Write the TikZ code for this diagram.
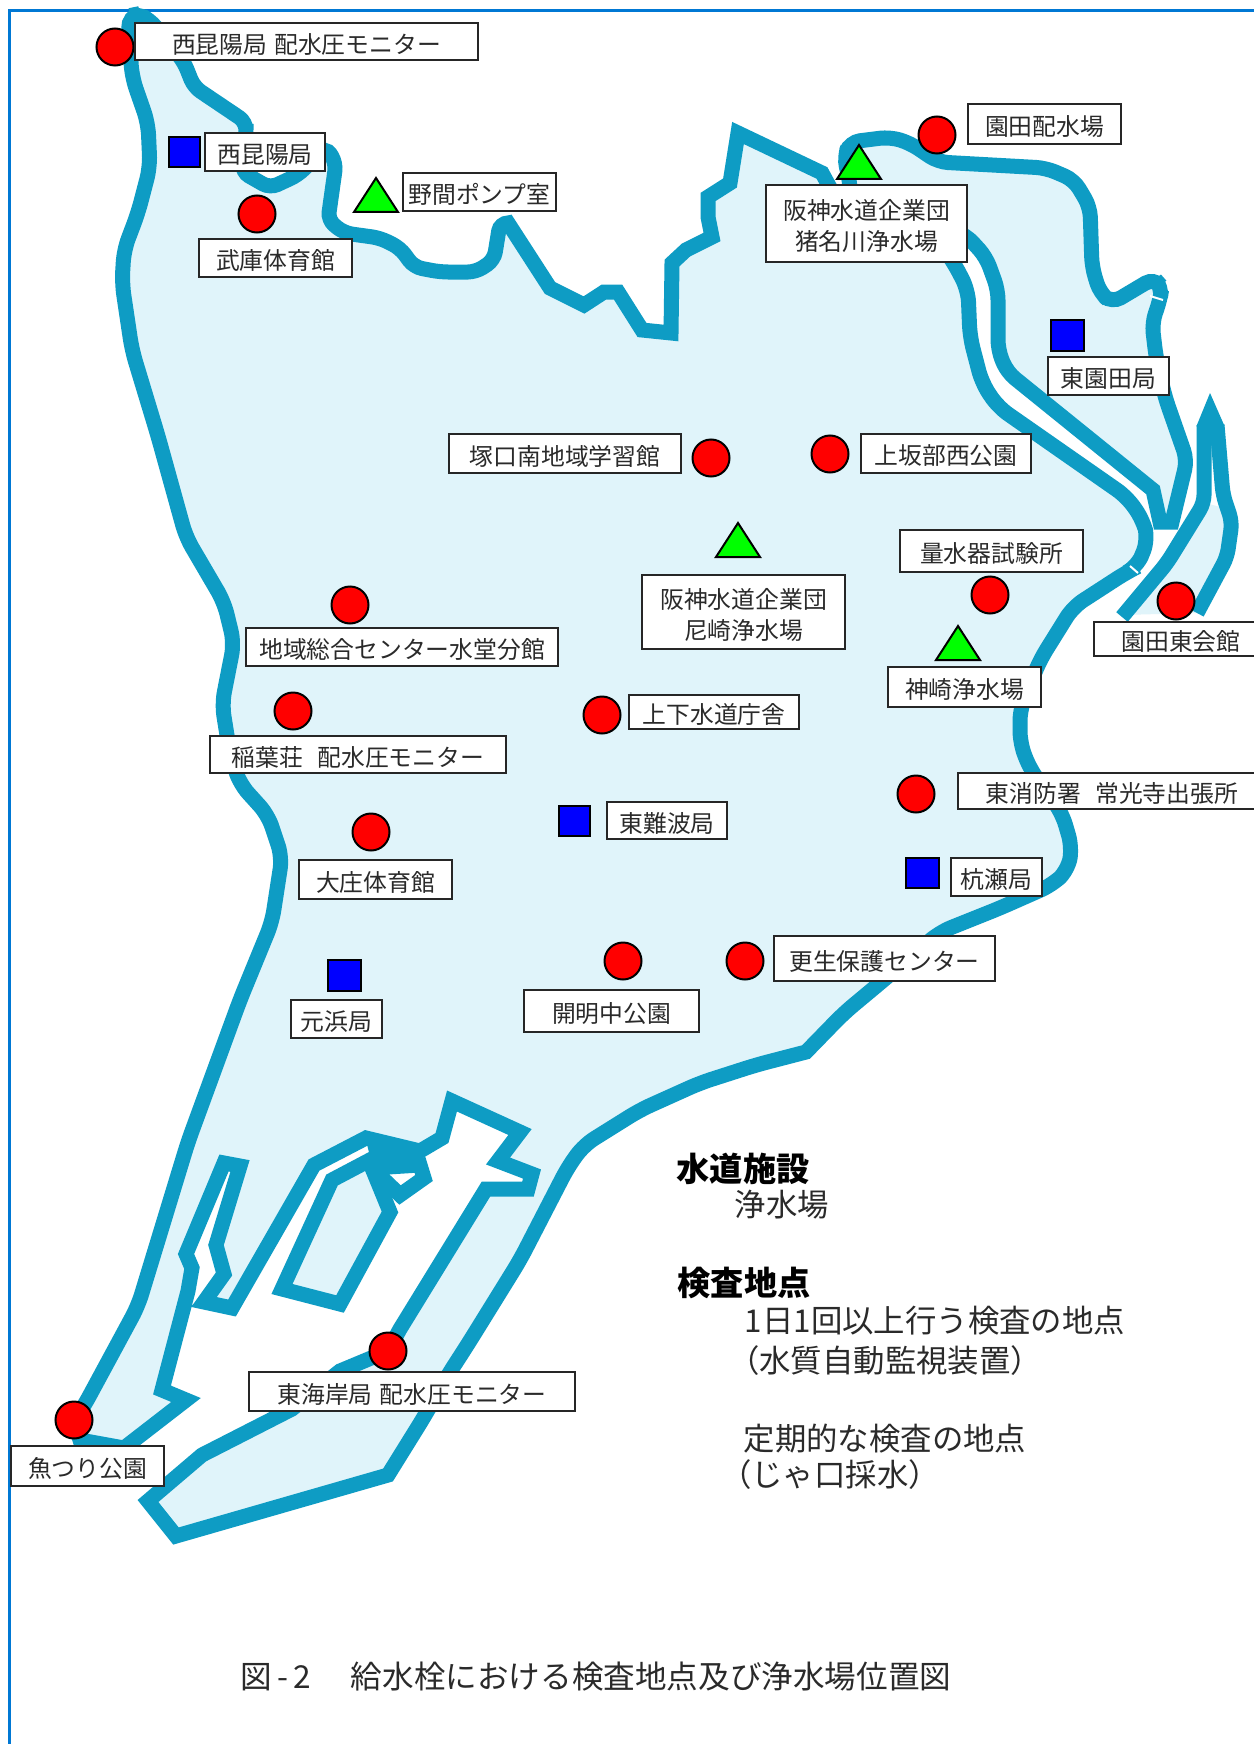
\documentclass[tikz,border=0pt]{standalone}
\usepackage{fontspec}
\setmainfont{Noto Sans CJK JP}
\usetikzlibrary{calc}
\definecolor{band}{HTML}{0E9CC4}
\definecolor{land}{HTML}{E0F4FA}
\definecolor{framec}{HTML}{0078D4}
\definecolor{ink}{HTML}{2A2A2A}
\tikzset{
  bandline/.style={draw=band,line width=7.5pt,line join=miter,miter limit=4},
  landarea/.style={bandline,fill=land},
  lblbox/.style={draw=black!85,line width=1.3pt,fill=white},
  lbltext/.style={text=ink,font=\fontsize{11.9}{15.5}\selectfont,align=center,inner sep=0pt},
  redpt/.style={draw=black,line width=1pt,fill=red,circle,minimum size=18.5pt,inner sep=0pt},
  bluept/.style={draw=black,line width=.8pt,fill=blue},
  greenpt/.style={draw=black,line width=1pt,fill=green,line join=miter},
  legendhead/.style={text=black,font=\fontsize{16.6}{18}\selectfont\bfseries,inner sep=0pt},
  legendtext/.style={text=ink,font=\fontsize{15.7}{18}\selectfont,inner sep=0pt},
  captiontext/.style={text=ink,font=\fontsize{15.8}{18}\selectfont,inner sep=0pt},
}
\newcommand{\lblnode}[6]{%
  \draw[lblbox] (#2,#3) rectangle (#4,#5);
  \node[lbltext] (#1) at ({(#2+#4)/2},{(#3+#5)/2+2.5}) {#6};}
\newcommand{\redat}[3]{\node[redpt] (#1) at (#2,#3) {};}
\newcommand{\blueat}[5]{\draw[bluept] (#2,#3) rectangle (#4,#5);}
\newcommand{\greenat}[4]{\draw[greenpt] (#1,#2) -- (#3,#4) -- ({2*#1-#3},#4) -- cycle;}
\begin{document}
\begin{tikzpicture}[x=0.5pt,y=-0.5pt]
\useasboundingbox (0,0) rectangle (1253,1744);
\fill[white] (0,0) rectangle (1253,1744);
% frame
\draw[framec,line width=1.5pt] (9.5,1760) -- (9.5,11) -- (1270,11);
% north-east land
\draw[landarea,rounded corners=5pt] (850,195) -- (850,182) -- (844,157) -- (850,142) -- (890,137) -- (910,143) -- (938,162) -- (1046,168) -- (1074,180) -- (1090,207) -- (1092,267) -- (1100,293) -- (1112,303) -- (1154,278) -- (1162,287) -- (1160,300) -- (1152,323) -- (1156,357) -- (1165,397) -- (1187,460) [sharp corners] -- (1172,522) -- (1160,522) -- (1153,490) [rounded corners=5pt] -- (1007,372) -- (998,350) -- (998,290) -- (986,257) -- (966,235) -- cycle;
% main land
\draw[landarea,rounded corners=4pt]
  (128,16) -- (138,14) -- (150,20) -- (184,62) -- (194,87) -- (246,122) -- (246,132) -- (242,172) -- (270,188) -- (298,175) -- (326,147) -- (336,163) -- (328,220) -- (344,233) -- (380,238) -- (400,248) -- (414,267) -- (440,272) -- (476,272) -- (494,260) -- (500,223)
  [sharp corners] -- (508,223) -- (550,288) -- (584,305) -- (604,292) -- (618,292) -- (642,330) -- (671,333) -- (672,263) -- (686,250) -- (712,237) -- (708,217) -- (708,197) -- (730,183) -- (738,133) -- (822,173) -- (834,195) -- (945,250)
  [rounded corners=6pt] -- (954,263) -- (968,290) -- (970,337) -- (982,383) -- (998,407) -- (1127,497) -- (1143,520) -- (1148,540) -- (1137,567) -- (1127,572) -- (1073,607) -- (1040,660) -- (1020,709) -- (1020,743) -- (1030,769) -- (1062,813) -- (1072,847) -- (1068,870) -- (1052,885) -- (1000,908) -- (940,932) -- (880,983) -- (844,1013)
  [sharp corners] -- (806,1052) [rounded corners=6pt] -- (756,1065) -- (700,1083) -- (640,1110) -- (584,1145) -- (568,1167) -- (520,1260) -- (468,1344) -- (448,1375) -- (424,1417)
  [sharp corners] -- (388,1475) -- (176,1536) -- (148,1501) -- (202,1455) -- (292,1409) -- (340,1371) -- (388,1351) -- (400,1329) -- (486,1189) -- (528,1189) -- (532,1174) -- (498,1161) -- (520,1132) -- (452,1101) -- (442,1138) -- (420,1151) -- (366,1138) -- (314,1165) -- (232,1308) -- (204,1302) -- (224,1274) -- (216,1245) -- (240,1166) -- (224,1163) -- (186,1254) -- (192,1268) -- (188,1291) -- (162,1390) -- (186,1400) -- (124,1448) -- (80,1440)
  [rounded corners=6pt] -- (74,1421) -- (84,1406) -- (138,1306) -- (188,1142) -- (240,1000) -- (272,922) -- (282,857) -- (268,815) -- (240,784) -- (230,754) -- (222,704) -- (234,643) -- (224,602) -- (186,537) -- (158,436) -- (132,350) -- (122,283) -- (124,250) -- (138,213) -- (150,167) -- (148,123) -- (132,77) -- cycle;
% harbour island
\draw[landarea] (332,1180) -- (282,1289) -- (340,1304) -- (390,1212) -- (372,1168) -- (368,1161) -- cycle;
\draw[bandline] (372,1168) -- (420,1165) -- (424,1178) -- (400,1195) -- (376,1172);
\fill[band] (366,1140) -- (420,1151) -- (420,1165) -- (372,1165) -- cycle;
% east strip
\fill[land] (1122,615) -- (1167,563) -- (1205,503) -- (1232,510) -- (1233,525) -- (1227,557) -- (1197,613) -- cycle;
\fill[band] (1196.5,426) -- (1210,393) -- (1224.5,426) -- (1205,440) -- cycle;
\draw[bandline,rounded corners=4pt] (1122,617) -- (1167,563) -- (1204,503) -- (1204,425);
\draw[bandline,rounded corners=4pt] (1217,425) -- (1223,495) -- (1232,522) -- (1227,557) -- (1197,613);
% small breaks in the river line
\draw[white,line width=1pt] (1150,296) -- (1163,300);
\draw[white,line width=1pt] (1130,566) -- (1138,573);
% markers under labels
\redat{c1}{115}{47}
\redat{c2}{257}{214}
\redat{c3}{937}{135}
\redat{c4}{711}{458}
\redat{c5}{830}{454}
\redat{c6}{990}{595}
\redat{c7}{1176}{601}
\redat{c8}{916}{794}
\redat{c9}{350}{605}
\redat{c10}{293}{711}
\redat{c11}{602}{715}
\redat{c12}{371}{832}
\redat{c13}{623}{961}
\redat{c14}{745}{961}
\redat{c15}{388}{1351}
\redat{c16}{74}{1420}
\blueat{s1}{169}{137}{200}{167}
\blueat{s2}{1051}{320}{1084}{351}
\blueat{s3}{559}{806}{590}{836}
\blueat{s4}{328}{960}{361}{991}
\blueat{s5}{906}{858}{939}{888}
\greenat{376}{178}{398}{212}
\greenat{859}{145}{881}{179}
\greenat{738}{523}{760}{557}
\greenat{958}{626}{980}{660}
% labels
\lblnode{l1}{135}{23}{478}{60}{西昆陽局\hspace{.3em}配水圧モニター}
\lblnode{l2}{205}{133}{325}{171}{西昆陽局}
\lblnode{l3}{403}{173}{556}{211}{野間ポンプ室}
\lblnode{l4}{199}{239}{352}{277}{武庫体育館}
\lblnode{l5}{766}{185}{967}{262}{阪神水道企業団\\猪名川浄水場}
\lblnode{l6}{968}{104}{1121}{144}{園田配水場}
\lblnode{l7}{1048}{357}{1169}{395}{東園田局}
\lblnode{l8}{449}{434}{681}{473}{塚口南地域学習館}
\lblnode{l9}{861}{434}{1031}{473}{上坂部西公園}
\lblnode{l10}{900}{530}{1083}{572}{量水器試験所}
\lblnode{l11}{642}{575}{845}{649}{阪神水道企業団\\尼崎浄水場}
\lblnode{l12}{1094}{622}{1268}{656}{園田東会館}
\lblnode{l13}{888}{667}{1041}{707}{神崎浄水場}
\lblnode{l14}{629}{695}{799}{729}{上下水道庁舎}
\lblnode{l15}{958}{773}{1266}{809}{東消防署\hspace{.6em}常光寺出張所}
\lblnode{l16}{607}{802}{727}{839}{東難波局}
\lblnode{l17}{246}{628}{558}{666}{地域総合センター水堂分館}
\lblnode{l18}{210}{736}{506}{773}{稲葉荘\hspace{.6em}配水圧モニター}
\lblnode{l19}{299}{860}{452}{899}{大庄体育館}
\lblnode{l20}{291}{1000}{382}{1038}{元浜局}
\lblnode{l21}{524}{990}{699}{1032}{開明中公園}
\lblnode{l22}{774}{936}{995}{981}{更生保護センター}
\lblnode{l23}{951}{858}{1042}{896}{杭瀬局}
\lblnode{l24}{249}{1372}{575}{1411}{東海岸局\hspace{.3em}配水圧モニター}
\lblnode{l25}{11}{1446}{164}{1486}{魚つり公園}
% legend
\node[legendhead] (h1) at (743,1169) {水道施設};
\node[legendtext] (t1) at (782,1205) {浄水場};
\node[legendhead] (h2) at (744,1283) {検査地点};
\node[legendtext] (t2) at (935,1321) {1日1回以上行う検査の地点};
\node[legendtext] (t3) at (885,1361) {（水質自動監視装置）};
\node[legendtext] (t4) at (885,1439) {定期的な検査の地点};
\node[legendtext] (t5) at (830,1475) {（じゃ口採水）};
% caption
\node[captiontext,anchor=west] (c0) at (240,1677) {図\,-\,2};
\node[captiontext] (c00) at (651,1677) {給水栓における検査地点及び浄水場位置図};
\end{tikzpicture}
\end{document}
